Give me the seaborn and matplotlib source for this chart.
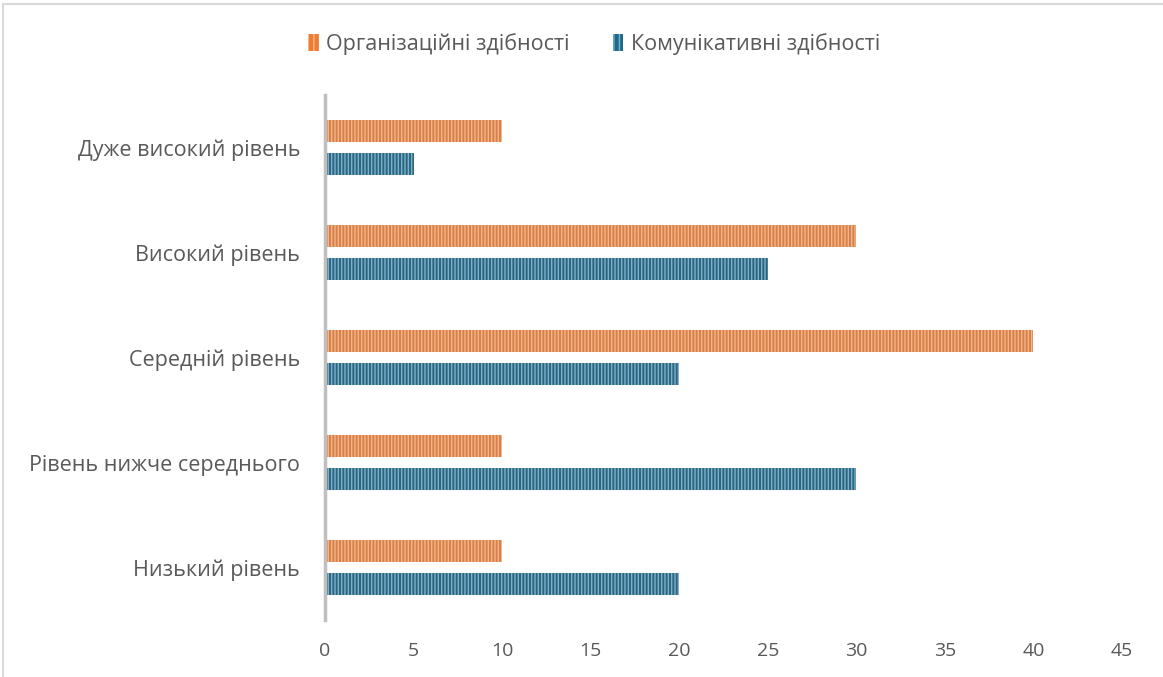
import matplotlib
matplotlib.use("Agg")
import matplotlib.pyplot as plt
import matplotlib.patches as mpatches
import seaborn as sns
import pandas as pd

categories = ["Дуже високий рівень", "Високий рівень", "Середній рівень",
              "Рівень нижче середнього", "Низький рівень"]
series_names = ["Організаційні здібності", "Комунікативні здібності"]
org_values = [10, 30, 40, 10, 10]
com_values = [5, 25, 20, 30, 20]
x_ticks = [0, 5, 10, 15, 20, 25, 30, 35, 40, 45]

df = pd.DataFrame({
    "level": categories * 2,
    "value": org_values + com_values,
    "series": [series_names[0]] * len(categories) + [series_names[1]] * len(categories),
})

sns.set_theme(style="white")
plt.rcParams["font.family"] = ["Open Sans", "DejaVu Sans"]
plt.rcParams["hatch.linewidth"] = 1.0

face_colors = ["#ED7D31", "#1F6A8A"]
hatch_colors = ["#F7B48C", "#7DB2CE"]
text_color = "#595959"

fig = plt.figure(figsize=(11.63, 6.77), dpi=100)
ax = fig.add_axes([325 / 1163, 1 - 620 / 677, (1122 - 325) / 1163, (620 - 95) / 677])

sns.barplot(data=df, y="level", x="value", hue="series", orient="h",
            palette=face_colors, width=0.63, gap=0.33, ax=ax, legend=False)

for i, container in enumerate(ax.containers):
    for bar in container:
        bar.set_hatch("|||||")
        bar.set_edgecolor(hatch_colors[i])
        bar.set_linewidth(0)

ax.set_xlim(0, 45)
ax.set_ylim(4.5, -0.5)
ax.set_xticks(x_ticks)
ax.set_xlabel("")
ax.set_ylabel("")
ax.tick_params(axis="x", labelsize=14, colors=text_color, length=0, pad=16)
ax.tick_params(axis="y", labelsize=15.5, colors=text_color, length=0, pad=18)
for side in ["top", "right", "bottom"]:
    ax.spines[side].set_visible(False)
ax.spines["left"].set_color("#BFBFBF")
ax.spines["left"].set_linewidth(2.5)

handles = [mpatches.Patch(facecolor=face_colors[i], edgecolor=hatch_colors[i],
                          hatch="|||", linewidth=0, label=series_names[i])
           for i in range(2)]
leg = fig.legend(handles=handles, loc="center", bbox_to_anchor=(594 / 1163, 1 - 44 / 677),
                 ncol=2, frameon=False, fontsize=15.5, handlelength=0.5, handleheight=0.8,
                 handletextpad=0.35, columnspacing=2.0)
for t in leg.get_texts():
    t.set_color(text_color)

fig.patches.append(mpatches.Rectangle((3 / 1163, -0.1), 1.2, 1 - 4 / 677 + 0.1,
                                      transform=fig.transFigure, fill=False,
                                      edgecolor="#D9D9D9", linewidth=1.5))

fig.savefig("out.png", dpi=100, facecolor="white")
